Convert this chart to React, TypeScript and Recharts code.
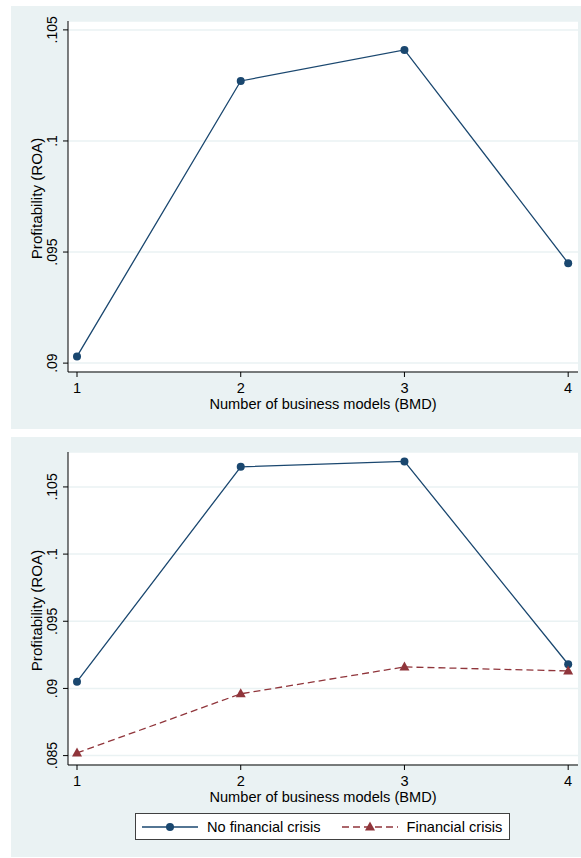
import React from "react";
import { LineChart, Line, XAxis, YAxis, CartesianGrid } from "recharts";

// business model counts
const bmd = [1, 2, 3, 4];

// top panel: all firms
const roaAll = [0.0903, 0.1027, 0.1041, 0.0945];

// bottom panel: split by crisis period
const roaNoCrisis = [0.0905, 0.1065, 0.1069, 0.0918];
const roaCrisis = [0.0852, 0.0896, 0.0916, 0.0913];

const topTicks = [0.09, 0.095, 0.1, 0.105];
const bottomTicks = [0.085, 0.09, 0.095, 0.1, 0.105];

const NAVY = "#1a476f";
const MAROON = "#90353b";
const BG = "#eaf2f3";
const FONT = "Arial, 'Liberation Sans', sans-serif";

const topData = bmd.map((b, i) => ({ bmd: b, roa: roaAll[i] }));
const bottomData = bmd.map((b, i) => ({ bmd: b, noCrisis: roaNoCrisis[i], crisis: roaCrisis[i] }));

const fmt = (v: number) => String(v).replace(/^0/, "");

// rotated y tick labels, Stata style
const YTick = ({ x, y, payload }: any) => (
  <text
    x={x}
    y={y}
    transform={`rotate(-90 ${x} ${y})`}
    textAnchor="middle"
    fontSize={14}
    fontFamily={FONT}
    fill="#000"
  >
    {fmt(payload.value)}
  </text>
);

const yTitle = (props: any) => {
  const vb = props.viewBox;
  const x = vb.x + 31;
  const y = vb.y + vb.height / 2 + 2;
  return (
    <text
      x={x}
      y={y}
      transform={`rotate(-90 ${x} ${y})`}
      textAnchor="middle"
      fontSize={15.2}
      fontFamily={FONT}
      fill="#000"
    >
      Profitability (ROA)
    </text>
  );
};

const xTitle = (props: any) => {
  const vb = props.viewBox;
  return (
    <text
      x={vb.x + vb.width / 2}
      y={vb.y + 36.5}
      textAnchor="middle"
      fontSize={14.6}
      fontFamily={FONT}
      fill="#000"
    >
      Number of business models (BMD)
    </text>
  );
};

const Triangle = ({ cx, cy }: any) => {
  if (cx == null || cy == null) return null;
  return (
    <polygon
      points={`${cx},${cy - 5.5} ${cx - 5},${cy + 3.5} ${cx + 5},${cy + 3.5}`}
      fill={MAROON}
    />
  );
};

const axes = (ticks: number[], domain: number[]) => [
  <CartesianGrid key="g" vertical={false} stroke={BG} strokeWidth={1.5} fill="#fff" />,
  <XAxis
    key="x"
    type="number"
    dataKey="bmd"
    domain={[0.945, 4.06]}
    allowDataOverflow
    ticks={bmd}
    height={57}
    tickSize={5}
    tickMargin={6}
    stroke="#000"
    tick={{ fontSize: 14.6, fontFamily: FONT, fill: "#000" }}
    label={xTitle}
  />,
  <YAxis
    key="y"
    type="number"
    domain={domain}
    allowDataOverflow
    ticks={ticks}
    width={57}
    tickSize={5}
    tickMargin={6}
    stroke="#000"
    tick={<YTick />}
    label={yTitle}
  />,
];

const LegendItem = ({ color, dashed, marker, text }: any) => (
  <div style={{ display: "flex", alignItems: "center" }}>
    <svg width={56} height={14} style={{ marginRight: 9 }}>
      <line
        x1={0}
        y1={7}
        x2={56}
        y2={7}
        stroke={color}
        strokeWidth={1.5}
        strokeDasharray={dashed ? "7 4" : undefined}
      />
      {marker === "circle" ? (
        <circle cx={28} cy={7} r={4} fill={color} />
      ) : (
        <polygon points="28,1.5 23,10.5 33,10.5" fill={color} />
      )}
    </svg>
    <span>{text}</span>
  </div>
);

export default function App() {
  return (
    <div style={{ position: "absolute", left: 0, top: 0, width: 581, height: 858, background: "#fff" }}>
      <div style={{ position: "absolute", left: 11, top: 6, width: 570, height: 423, background: BG }}>
        <LineChart width={570} height={423} data={topData} margin={{ top: 15, right: 3, left: 0, bottom: 0 }}>
          {axes(topTicks, [0.0896, 0.1054])}
          <Line
            dataKey="roa"
            type="linear"
            stroke={NAVY}
            strokeWidth={1.3}
            dot={{ r: 4, fill: NAVY, stroke: "none" }}
            isAnimationActive={false}
          />
        </LineChart>
      </div>

      <div style={{ position: "absolute", left: 11, top: 437, width: 570, height: 420, background: BG }}>
        <LineChart width={570} height={420} data={bottomData} margin={{ top: 15, right: 3, left: 0, bottom: 35 }}>
          {axes(bottomTicks, [0.0843, 0.1076])}
          <Line
            dataKey="noCrisis"
            name="No financial crisis"
            type="linear"
            stroke={NAVY}
            strokeWidth={1.3}
            dot={{ r: 4, fill: NAVY, stroke: "none" }}
            isAnimationActive={false}
          />
          <Line
            dataKey="crisis"
            name="Financial crisis"
            type="linear"
            stroke={MAROON}
            strokeWidth={1.3}
            strokeDasharray="7 4"
            dot={<Triangle />}
            isAnimationActive={false}
          />
        </LineChart>
        <div
          style={{
            position: "absolute",
            left: 124,
            top: 376,
            width: 375,
            height: 27,
            boxSizing: "border-box",
            border: "1px solid #404040",
            background: "#fff",
            display: "flex",
            alignItems: "center",
            paddingLeft: 6,
            gap: 21,
            fontFamily: FONT,
            fontSize: 14.6,
            color: "#000",
          }}
        >
          <LegendItem color={NAVY} marker="circle" text="No financial crisis" />
          <LegendItem color={MAROON} dashed marker="triangle" text="Financial crisis" />
        </div>
      </div>
    </div>
  );
}
